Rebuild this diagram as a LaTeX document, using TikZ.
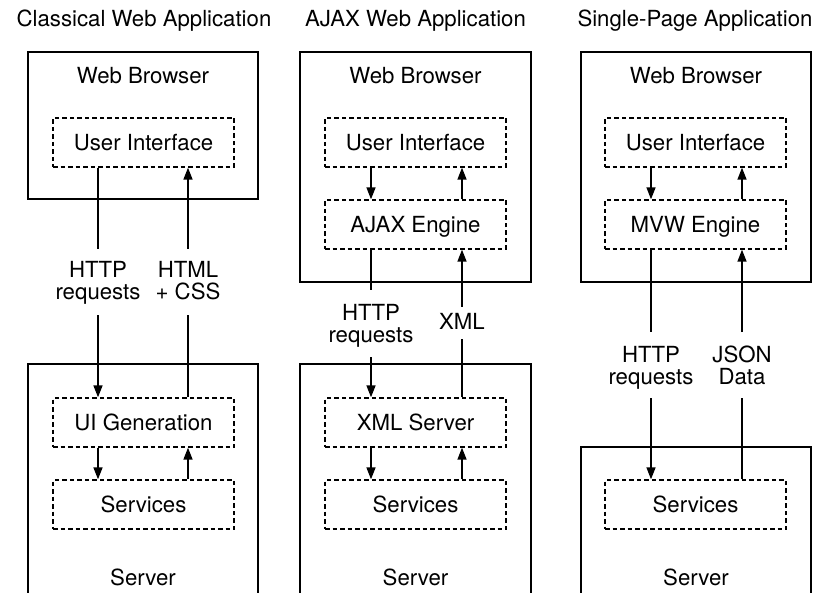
\documentclass[tikz,border=0pt]{standalone}
\usepackage{fontspec}
\setmainfont{TeX Gyre Heros}
\usetikzlibrary{arrows.meta}
\begin{document}
\begin{tikzpicture}[x=1pt,y=-1pt,
  txt/.style={font=\fontsize{22.2}{22}\selectfont, inner sep=0pt, anchor=base},
  outer/.style={draw, line width=1.8pt},
  obox/.style={draw, line width=1.8pt, minimum width=230pt, inner sep=0pt},
  dbox/.style={draw, dash pattern=on 4.5pt off 3pt, line width=1.4pt, minimum width=181pt, minimum height=49pt, inner sep=0pt, text height=16pt, text depth=0pt, font=\fontsize{22.2}{22}\selectfont},
  link/.style={line width=1.6pt},
  arr/.style={link, -{Triangle[length=12pt,width=9pt]}},
]
\useasboundingbox (0,0) rectangle (821,593);

% titles
\node[txt] (t1) at (144,27) {Classical Web Application};
\node[txt] (t2) at (415.5,27) {AJAX Web Application};
\node[txt] (t3) at (695,27) {Single-Page Application};

% browser boxes
\node[obox, minimum height=147pt] (br1) at (143,125.5) {};
\node[obox, minimum height=230pt, minimum width=231pt] (br2) at (415.5,167) {};
\node[obox, minimum height=230pt] (br3) at (696,167) {};
\node[txt] (wb1) at (143,84) {Web Browser};
\node[txt] (wb2) at (415.5,84) {Web Browser};
\node[txt] (wb3) at (696,84) {Web Browser};

% server boxes (open at bottom)
\draw[outer] (28,600) -- (28,364) -- (258,364) -- (258,600);
\draw[outer] (300,600) -- (300,364) -- (531,364) -- (531,600);
\draw[outer] (581,600) -- (581,447) -- (811,447) -- (811,600);
\node[txt] (sr1) at (143,585) {Server};
\node[txt] (sr2) at (415.5,585) {Server};
\node[txt] (sr3) at (696,585) {Server};

% dashed inner boxes
\node[dbox] (ui1) at (143.5,142.5) {User Interface};
\node[dbox] (gen1) at (143.5,422.5) {UI Generation};
\node[dbox] (sv1) at (143.5,504.5) {Services};

\node[dbox] (ui2) at (415.5,142.5) {User Interface};
\node[dbox] (en2) at (415.5,224.5) {AJAX Engine};
\node[dbox] (xs2) at (415.5,422.5) {XML Server};
\node[dbox] (sv2) at (415.5,504.5) {Services};

\node[dbox] (ui3) at (695.5,142.5) {User Interface};
\node[dbox] (en3) at (695.5,224.5) {MVW Engine};
\node[dbox] (sv3) at (695.5,504.5) {Services};

% ---- column 1 connectors
\coordinate (a1) at (98,249);  \coordinate (b1) at (98,315);
\coordinate (c1) at (188,249); \coordinate (d1) at (188,315);
\draw[link] (ui1.south -| a1) -- (a1);
\draw[arr] (b1) -- (gen1.north -| b1);
\draw[link] (gen1.north -| d1) -- (d1);
\draw[arr] (c1) -- (ui1.south -| c1);
\node[txt] (h1) at (98,278) {HTTP};
\node[txt] (q1) at (98,300) {requests};
\node[txt] (m1) at (188,278) {HTML};
\node[txt] (s1) at (188,300) {+ CSS};
\draw[arr] (gen1.south -| a1) -- (sv1.north -| a1);
\draw[arr] (sv1.north -| c1) -- (gen1.south -| c1);

% ---- column 2 connectors
\coordinate (a2) at (371,290); \coordinate (b2) at (371,357);
\coordinate (c2) at (462,307); \coordinate (d2) at (462,339);
\draw[arr] (ui2.south -| a2) -- (en2.north -| a2);
\draw[arr] (en2.north -| c2) -- (ui2.south -| c2);
\draw[link] (en2.south -| a2) -- (a2);
\draw[arr] (b2) -- (xs2.north -| b2);
\draw[link] (xs2.north -| d2) -- (d2);
\draw[arr] (c2) -- (en2.south -| c2);
\node[txt] (h2) at (371,320) {HTTP};
\node[txt] (q2) at (371,342) {requests};
\node[txt] (x2) at (462,330) {XML};
\draw[arr] (xs2.south -| a2) -- (sv2.north -| a2);
\draw[arr] (sv2.north -| c2) -- (xs2.south -| c2);

% ---- column 3 connectors
\coordinate (a3) at (651,332); \coordinate (b3) at (651,398);
\coordinate (c3) at (742,332); \coordinate (d3) at (742,398);
\draw[arr] (ui3.south -| a3) -- (en3.north -| a3);
\draw[arr] (en3.north -| c3) -- (ui3.south -| c3);
\draw[link] (en3.south -| a3) -- (a3);
\draw[arr] (b3) -- (sv3.north -| b3);
\draw[link] (sv3.north -| d3) -- (d3);
\draw[arr] (c3) -- (en3.south -| c3);
\node[txt] (h3) at (651,362) {HTTP};
\node[txt] (q3) at (651,384) {requests};
\node[txt] (j3) at (742,362) {JSON};
\node[txt] (k3) at (742,384) {Data};
\end{tikzpicture}
\end{document}
